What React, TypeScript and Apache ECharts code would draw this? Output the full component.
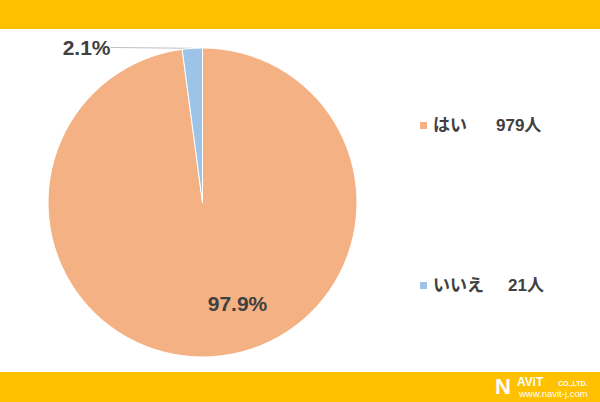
import React, { useEffect, useRef } from "react";
import * as echarts from "echarts";

const categories = ["はい", "いいえ"];
const counts = [979, 21];
const sliceColors = ["#F4B183", "#9DC3E6"];
const legendNameWidths = [63, 75];

const FONT = "'Liberation Sans', 'Noto Sans CJK JP', sans-serif";
const TEXT = "#404040";

export default function App() {
  const ref = useRef<HTMLDivElement>(null);
  useEffect(() => {
    if (!ref.current) return;
    const chart = echarts.init(ref.current, null, { renderer: "svg" });
    const data = categories.map((name, i) => ({
      name,
      value: counts[i],
      itemStyle: { color: sliceColors[i] },
      label:
        i === 0
          ? { show: true, position: "inside" }
          : { show: true, position: "outside" },
      labelLine: i === 0 ? { show: false } : { show: true, length: 5, length2: 5 },
    }));
    const logoFont = "'Liberation Sans', sans-serif";
    chart.setOption({
      animation: false,
      backgroundColor: "#ffffff",
      graphic: [
        { type: "rect", left: 0, top: 0, shape: { width: 600, height: 29 }, style: { fill: "#FFC000" }, z: 0 },
        { type: "rect", left: 0, top: 372, shape: { width: 600, height: 30 }, style: { fill: "#FFC000" }, z: 0 },
        {
          type: "text", x: 495, y: 386, z: 10,
          style: { text: "N", fill: "#fff", font: `bold 22px ${logoFont}`, verticalAlign: "middle" },
        },
        {
          type: "text", x: 517, y: 381.5, z: 10,
          style: { text: "AViT", fill: "#fff", font: `bold 12px ${logoFont}`, verticalAlign: "middle" },
        },
        {
          type: "text", x: 558, y: 383.5, z: 10,
          style: { text: "CO.,LTD.", fill: "#fff", font: `bold 7px ${logoFont}`, verticalAlign: "middle" },
        },
        {
          type: "text", x: 519, y: 393.5, z: 10,
          style: { text: "www.navit-j.com", fill: "#fff", font: `9.5px ${logoFont}`, verticalAlign: "middle" },
        },
      ],
      legend: {
        orient: "vertical",
        left: 413,
        top: 112,
        itemGap: 143,
        icon: "rect",
        itemWidth: 9,
        itemHeight: 9,
        data: categories,
        formatter: (name: string) => {
          const i = categories.indexOf(name);
          return `{n${i}|${name}}{v|${counts[i]}人}`;
        },
        textStyle: {
          color: TEXT,
          fontFamily: FONT,
          fontWeight: "bold",
          fontSize: 17,
          rich: {
            n0: { color: TEXT, fontFamily: FONT, fontWeight: "bold", fontSize: 17, width: legendNameWidths[0] },
            n1: { color: TEXT, fontFamily: FONT, fontWeight: "bold", fontSize: 17, width: legendNameWidths[1] },
            v: { color: TEXT, fontFamily: FONT, fontWeight: "bold", fontSize: 17 },
          },
        },
      },
      series: [
        {
          type: "pie",
          center: [202.5, 202.5],
          radius: [0, 154.5],
          startAngle: 90,
          clockwise: true,
          percentPrecision: 1,
          itemStyle: { borderColor: "#ffffff", borderWidth: 1 },
          label: {
            formatter: "{d}%",
            color: TEXT,
            fontFamily: FONT,
            fontWeight: "bold",
            fontSize: 21,
          },
          labelLine: { lineStyle: { color: "#BFBFBF", width: 1 } },
          labelLayout: (p: any) =>
            p.dataIndex === 0
              ? { x: 237.5, y: 303.5, align: "center", verticalAlign: "middle" }
              : { x: 110.5, y: 47.5, align: "right", verticalAlign: "middle" },
          data,
        },
      ],
    });
    return () => chart.dispose();
  }, []);
  return (
    <div
      ref={ref}
      style={{ position: "fixed", left: 0, top: 0, width: 600, height: 402 }}
    />
  );
}
